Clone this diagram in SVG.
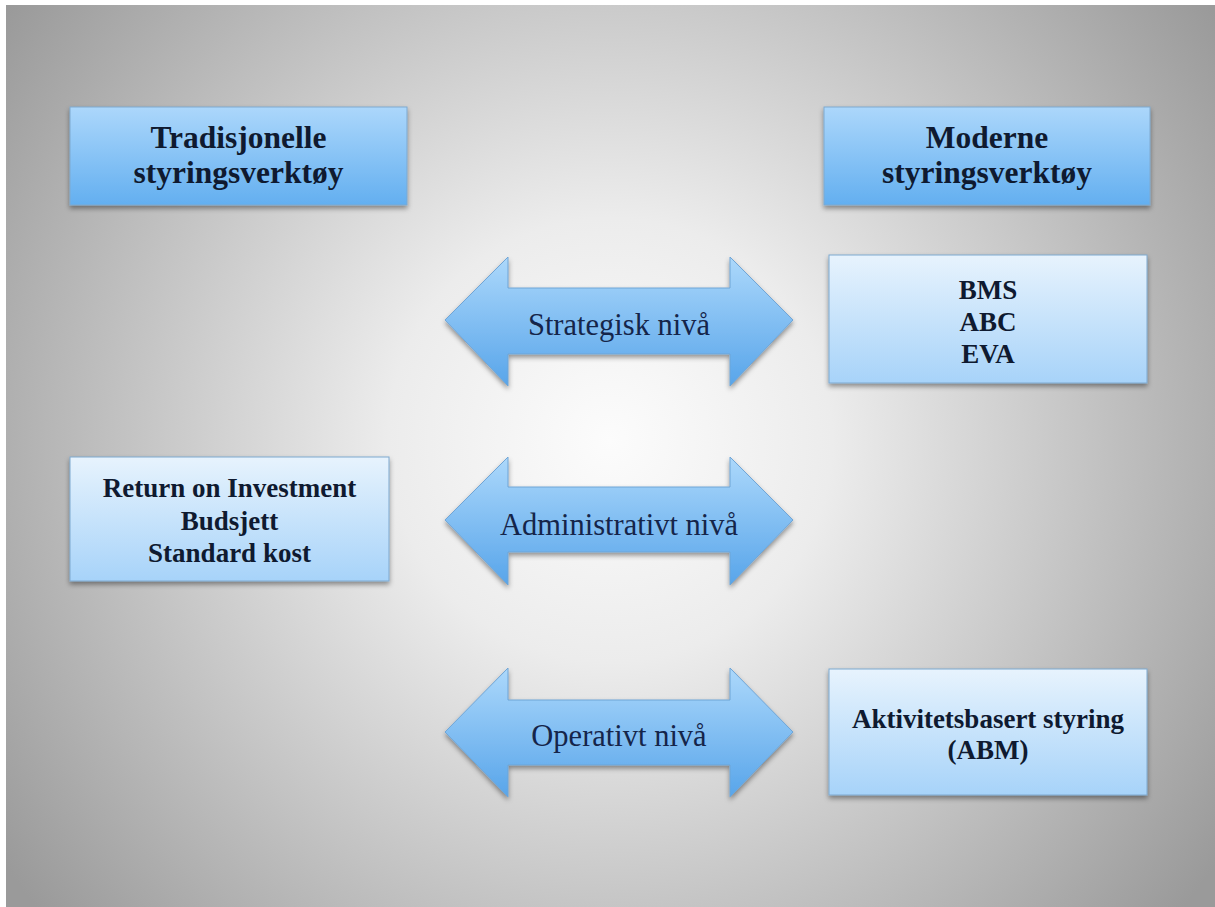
<svg xmlns="http://www.w3.org/2000/svg" width="1215" height="907" viewBox="0 0 1215 907">
<defs>
<radialGradient id="bg" gradientUnits="userSpaceOnUse" cx="610" cy="440" r="740">
<stop offset="0" stop-color="#fcfcfc"/>
<stop offset="0.3" stop-color="#ececec"/>
<stop offset="1" stop-color="#9a9a9a"/>
</radialGradient>
<linearGradient id="hdr" x1="0" y1="0" x2="0" y2="1">
<stop offset="0" stop-color="#acd7fb"/>
<stop offset="1" stop-color="#63aff0"/>
</linearGradient>
<linearGradient id="cnt" x1="0" y1="0" x2="0" y2="1">
<stop offset="0" stop-color="#e7f3fd"/>
<stop offset="1" stop-color="#a7d3f9"/>
</linearGradient>
<linearGradient id="arr" x1="0" y1="0" x2="0" y2="1">
<stop offset="0" stop-color="#acd8fb"/>
<stop offset="1" stop-color="#58a5ea"/>
</linearGradient>
<filter id="sh" x="-10%" y="-10%" width="120%" height="130%">
<feDropShadow dx="0" dy="3" stdDeviation="2.5" flood-color="#000" flood-opacity="0.4"/>
</filter>
<style>
.hbox{fill:url(#hdr);stroke:#7ea9cf;stroke-width:1;filter:url(#sh)}
.cbox{fill:url(#cnt);stroke:#7ea9cf;stroke-width:1;filter:url(#sh)}
.arrow{fill:url(#arr);stroke:#6fa5d6;stroke-width:1;filter:url(#sh)}
.ht{font-family:"Liberation Serif","Times New Roman",serif;font-weight:bold;font-size:31.5px;fill:#0f1a30;text-anchor:middle}
.ct{font-family:"Liberation Serif","Times New Roman",serif;font-weight:bold;font-size:27px;fill:#0f1a30;text-anchor:middle}
.at{font-family:"Liberation Serif","Times New Roman",serif;font-size:30.5px;fill:#15254a;text-anchor:middle}
</style>
</defs>
<rect x="0" y="0" width="1215" height="907" fill="#ffffff"/>
<rect x="6" y="5" width="1209" height="902" fill="url(#bg)"/>

<g id="node-tradisjonelle">
<rect class="hbox" x="70" y="107" width="337" height="98"/>
<text class="ht" x="238.5" y="148">Tradisjonelle</text>
<text class="ht" x="238.5" y="183">styringsverktøy</text>
</g>
<g id="node-moderne">
<rect class="hbox" x="824" y="107" width="326" height="98"/>
<text class="ht" x="987" y="148">Moderne</text>
<text class="ht" x="987" y="183">styringsverktøy</text>
</g>
<g id="node-strategisk-verktoy">
<rect class="cbox" x="829" y="255" width="318" height="128"/>
<text class="ct" x="988" y="299">BMS</text>
<text class="ct" x="988" y="331">ABC</text>
<text class="ct" x="988" y="363">EVA</text>
</g>
<g id="node-tradisjonelle-verktoy">
<rect class="cbox" x="70" y="457" width="319" height="124"/>
<text class="ct" x="229.5" y="497">Return on Investment</text>
<text class="ct" x="229.5" y="530">Budsjett</text>
<text class="ct" x="229.5" y="562">Standard kost</text>
</g>
<g id="node-abm">
<rect class="cbox" x="829" y="669" width="318" height="126"/>
<text class="ct" x="988" y="728">Aktivitetsbasert styring</text>
<text class="ct" x="988" y="759">(ABM)</text>
</g>

<g id="connectors">
<g id="arrow-strategisk">
<path class="arrow" d="M445,320 L508,257 L508,288 L730,288 L730,257 L793,320 L730,386 L730,354 L508,354 L508,386 Z"/>
<text class="at" x="619" y="335">Strategisk nivå</text>
</g>
<g id="arrow-administrativt">
<path class="arrow" d="M445,520 L508,457 L508,487 L730,487 L730,457 L793,520 L730,585 L730,552 L508,552 L508,585 Z"/>
<text class="at" x="619" y="535">Administrativt nivå</text>
</g>
<g id="arrow-operativt">
<path class="arrow" d="M445,732 L508,668 L508,700 L730,700 L730,668 L793,732 L730,797 L730,765 L508,765 L508,797 Z"/>
<text class="at" x="619" y="746">Operativt nivå</text>
</g>
</g>
</svg>
